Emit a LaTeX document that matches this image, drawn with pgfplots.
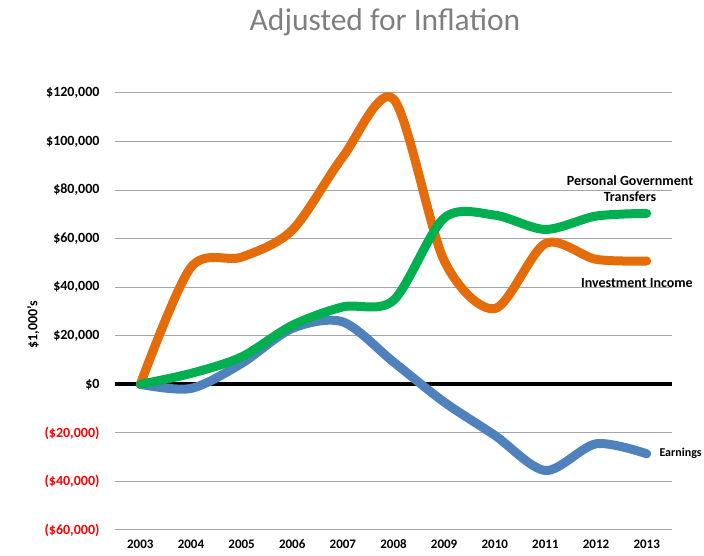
\documentclass[border=0pt]{standalone}
\usepackage{pgfplots}
\pgfplotsset{compat=1.18}
\usepackage{fontspec}
\setmainfont{Carlito}
\definecolor{cOrange}{HTML}{E46C0A}
\definecolor{cGreen}{HTML}{00B050}
\definecolor{cBlue}{HTML}{4F81BD}
\definecolor{cGrid}{HTML}{A6A6A6}
\definecolor{cTitle}{HTML}{7F7F7F}
\begin{document}
\begin{tikzpicture}
\path[use as bounding box] (0,0) rectangle (704pt,556pt);
\node[text=cTitle, font=\fontsize{31.5}{36}\selectfont] at (385pt,534pt) {Adjusted for Inflation};
\begin{axis}[
  at={(115pt,26pt)}, anchor=south west,
  scale only axis, width=557pt, height=437pt,
  xmin=2002.5, xmax=2013.5, ymin=-60000, ymax=120000,
  scaled ticks=false,
  xtick={2003,2004,2005,2006,2007,2008,2009,2010,2011,2012,2013},
  xticklabels={2003,2004,2005,2006,2007,2008,2009,2010,2011,2012,2013},
  ytick={-60000,-40000,-20000,0,20000,40000,60000,80000,100000,120000},
  yticklabels={{\textcolor{red}{(\$60,000)}},{\textcolor{red}{(\$40,000)}},{\textcolor{red}{(\$20,000)}},{\$0},{\$20,000},{\$40,000},{\$60,000},{\$80,000},{\$100,000},{\$120,000}},
  xticklabel style={font=\fontsize{13}{15}\selectfont\bfseries, yshift=-6pt},
  yticklabel style={font=\fontsize{14}{16}\selectfont\bfseries, xshift=-12pt},
  major tick length=0pt,
  axis line style={draw=none},
  ymajorgrids, grid style={cGrid, line width=1pt},
  ylabel={\$1,000's},
  ylabel style={font=\fontsize{14}{16}\selectfont\bfseries, at={(axis description cs:-0.147,0.469)}, anchor=center},
  clip=false,
  every axis plot/.append style={line width=9pt, line cap=round, line join=round, no markers},
]
\addplot[black, line width=4pt, line cap=butt, sharp plot] coordinates {(2002.5,0) (2013.5,0)};
\addplot[cBlue, smooth] coordinates {
(2003,0) (2004,-1700) (2005,8600) (2006,23000) (2007,25700) (2008,9200)
(2009,-7300) (2010,-21000) (2011,-35500) (2012,-24500) (2013,-28600)};
\addplot[cOrange, smooth] coordinates {
(2003,0) (2004,48200) (2005,52400) (2006,63500) (2007,93700) (2008,117500)
(2009,51000) (2010,31200) (2011,58000) (2012,51500) (2013,50800)};
\addplot[cGreen, smooth] coordinates {
(2003,0) (2004,4500) (2005,11300) (2006,24300) (2007,31900) (2008,34600)
(2009,68500) (2010,69700) (2011,63800) (2012,69300) (2013,70400)};
\node[font=\fontsize{14}{16}\selectfont\bfseries, align=center] at (axis cs:2012.67,80400) {Personal Government\\Transfers};
\node[font=\fontsize{14}{16}\selectfont\bfseries, anchor=west, inner sep=0pt] at (axis cs:2011.7,41650) {Investment Income};
\node[font=\fontsize{12}{16}\selectfont\bfseries, anchor=west, inner sep=0pt] at (axis cs:2013.25,-28450) {Earnings};
\end{axis}
\end{tikzpicture}
\end{document}
